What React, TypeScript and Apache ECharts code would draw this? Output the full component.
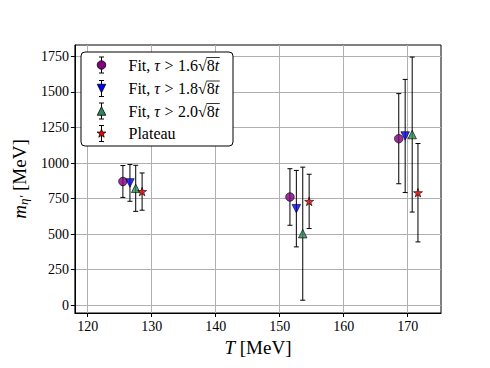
import React, { useEffect, useRef } from "react";
import * as echarts from "echarts";

// ---- data ----
const xTicks = [120, 130, 140, 150, 160, 170];
const yTicks = [0, 250, 500, 750, 1000, 1250, 1500, 1750];

const fit16T = [125.5, 151.6, 168.6];
const fit16M = [870, 761, 1171];
const fit16Err = [112, 199, 317];

const fit18T = [126.6, 152.6, 169.6];
const fit18M = [860, 679, 1190];
const fit18Err = [129, 269, 398];

const fit20T = [127.5, 153.6, 170.7];
const fit20M = [822, 503, 1200];
const fit20Err = [162, 468, 545];

const plateauT = [128.5, 154.6, 171.6];
const plateauM = [799, 730, 791];
const plateauErr = [131, 191, 346];

const legendThresholds = ["1.6", "1.8", "2.0"];

const FONT = "Liberation Serif";

function starPoints(cx: number, cy: number, r: number): number[][] {
  const pts: number[][] = [];
  const inner = r * 0.381966;
  for (let k = 0; k < 10; k++) {
    const a = -Math.PI / 2 + (k * Math.PI) / 5;
    const rr = k % 2 === 0 ? r : inner;
    pts.push([cx + rr * Math.cos(a), cy + rr * Math.sin(a)]);
  }
  return pts;
}

function starSymbol(): string {
  const p = starPoints(0, 0, 10);
  return "path://" + p.map((q, i) => (i === 0 ? "M" : "L") + q[0].toFixed(3) + "," + q[1].toFixed(3)).join("") + "Z";
}

const symbols = {
  circle: "circle",
  down: "path://M-1,-1L1,-1L0,1Z",
  up: "triangle",
  star: starSymbol(),
};

function measure(text: string, font: string): number {
  const c = document.createElement("canvas");
  const ctx = c.getContext("2d")!;
  ctx.font = font;
  return ctx.measureText(text).width;
}

export default function App() {
  const ref = useRef<HTMLDivElement>(null);

  useEffect(() => {
    document.body.style.margin = "0";
    const chart = echarts.init(ref.current!, null, { renderer: "svg" });

    const groups = [
      { name: "Fit 1.6", T: fit16T, M: fit16M, E: fit16Err, color: "#800080", symbol: symbols.circle, size: 8.5 },
      { name: "Fit 1.8", T: fit18T, M: fit18M, E: fit18Err, color: "#0000ff", symbol: symbols.down, size: 8.5 },
      { name: "Fit 2.0", T: fit20T, M: fit20M, E: fit20Err, color: "#2e8b57", symbol: symbols.up, size: 8.5 },
      { name: "Plateau", T: plateauT, M: plateauM, E: plateauErr, color: "#ff0000", symbol: symbols.star, size: 9 },
    ];

    const series: any[] = [];
    groups.forEach((g, gi) => {
      series.push({
        type: "custom",
        name: g.name + " err",
        z: 10 + gi * 2,
        encode: { x: 0, y: [1, 2] },
        data: g.T.map((t, i) => [t, g.M[i] - g.E[i], g.M[i] + g.E[i]]),
        renderItem: (params: any, api: any) => {
          const x = api.value(0);
          const p1 = api.coord([x, api.value(1)]);
          const p2 = api.coord([x, api.value(2)]);
          const cap = 2.5;
          const style = { stroke: "#000", lineWidth: 1 };
          return {
            type: "group",
            children: [
              { type: "line", shape: { x1: p1[0], y1: p1[1], x2: p2[0], y2: p2[1] }, style },
              { type: "line", shape: { x1: p1[0] - cap, y1: p1[1], x2: p1[0] + cap, y2: p1[1] }, style },
              { type: "line", shape: { x1: p2[0] - cap, y1: p2[1], x2: p2[0] + cap, y2: p2[1] }, style },
            ],
          };
        },
      });
      series.push({
        type: "scatter",
        name: g.name,
        z: 11 + gi * 2,
        symbol: g.symbol,
        symbolSize: g.size,
        symbolKeepAspect: true,
        itemStyle: { color: g.color, borderColor: "#000", borderWidth: 0.8 },
        data: g.T.map((t, i) => [t, g.M[i]]),
      });
    });

    // ---- legend (graphic) ----
    const lx = 81, ly = 52, lw = 152, lh = 94;
    const rowY = [65, 88.5, 111, 133.5];
    const mx = 101.5;
    const tx = 128.5;
    const fs = 16;
    const nFont = `${fs}px "Liberation Serif"`;
    const iFont = `italic ${fs}px "Liberation Serif"`;
    const legendEls: any[] = [
      {
        type: "rect",
        shape: { x: lx, y: ly, width: lw, height: lh, r: 4 },
        style: { fill: "#fff", stroke: "#000", lineWidth: 1 },
        z: 100,
      },
    ];
    const markerEl = (k: number, cy: number): any => {
      const st = { fill: groups[k].color, stroke: "#000", lineWidth: 0.8 };
      const r = 4.25;
      if (k === 0) return { type: "circle", shape: { cx: mx, cy, r }, style: st, z: 102 };
      if (k === 1) return { type: "polygon", shape: { points: [[mx - r, cy - r], [mx + r, cy - r], [mx, cy + r]] }, style: st, z: 102 };
      if (k === 2) return { type: "polygon", shape: { points: [[mx - r, cy + r], [mx + r, cy + r], [mx, cy - r]] }, style: st, z: 102 };
      return { type: "polygon", shape: { points: starPoints(mx, cy, 4.6) }, style: st, z: 102 };
    };
    const textStyle = (s: string, it: boolean) => ({
      text: s,
      fontFamily: FONT,
      fontSize: fs,
      fontStyle: it ? "italic" : "normal",
      fontWeight: "normal",
      fill: "#000",
      verticalAlign: "middle",
      align: "left",
    });
    rowY.forEach((cy, k) => {
      const ls = { stroke: "#000", lineWidth: 1 };
      legendEls.push({ type: "line", shape: { x1: mx, y1: cy - 8, x2: mx, y2: cy + 8 }, style: ls, z: 101 });
      legendEls.push({ type: "line", shape: { x1: mx - 2.5, y1: cy - 8, x2: mx + 2.5, y2: cy - 8 }, style: ls, z: 101 });
      legendEls.push({ type: "line", shape: { x1: mx - 2.5, y1: cy + 8, x2: mx + 2.5, y2: cy + 8 }, style: ls, z: 101 });
      legendEls.push(markerEl(k, cy));
      if (k < 3) {
        const segs: [string, boolean][] = [
          ["Fit, ", false],
          ["τ", true],
          [">", false],
          [legendThresholds[k], false],
          ["√", false],
          ["8", false],
          ["t", true],
        ];
        let x = tx;
        let olStart = 0;
        segs.forEach(([s, it], si) => {
          if (si === 5) olStart = x;
          legendEls.push({ type: "text", x, y: cy, style: textStyle(s, it), z: 102 });
          x += measure(s, it ? iFont : nFont) + (si === 1 || si === 2 ? 4.5 : 0);
        });
        legendEls.push({
          type: "line",
          shape: { x1: olStart - 0.5, y1: cy - 7.5, x2: x + 0.5, y2: cy - 7.5 },
          style: { stroke: "#000", lineWidth: 0.8 },
          z: 102,
        });
      } else {
        legendEls.push({ type: "text", x: tx, y: cy, style: textStyle("Plateau", false), z: 102 });
      }
    });

    const fmt = (v: number) => String(Math.round(v));

    chart.setOption({
      animation: false,
      backgroundColor: "#fff",
      grid: { left: 73, right: 49, top: 45, bottom: 55, show: true, borderColor: "#000", borderWidth: 1, backgroundColor: "transparent" },
      xAxis: {
        type: "value",
        min: 118,
        max: 175.2,
        name: "{i|T} [MeV]",
        nameLocation: "middle",
        nameGap: 22,
        nameTextStyle: {
          fontFamily: FONT,
          fontSize: 19,
          color: "#000",
          rich: { i: { fontFamily: FONT, fontSize: 19, fontStyle: "italic", color: "#000" } },
        },
        axisLine: { show: true, onZero: false, lineStyle: { color: "#000", width: 1 } },
        axisTick: { show: true, inside: false, length: 4, customValues: xTicks, lineStyle: { color: "#000" } },
        axisLabel: { customValues: xTicks, formatter: fmt, fontFamily: FONT, fontSize: 14, color: "#000", margin: 6 },
        splitLine: { show: true, lineStyle: { color: "#b0b0b0", width: 1 } },
      },
      yAxis: {
        type: "value",
        min: -55,
        max: 1830,
        name: "{i|m}{s|η′} [MeV]",
        nameLocation: "middle",
        nameRotate: 90,
        nameGap: 41,
        nameTextStyle: {
          fontFamily: FONT,
          fontSize: 19,
          color: "#000",
          lineHeight: 22,
          rich: {
            i: { fontFamily: FONT, fontSize: 19, fontStyle: "italic", color: "#000", lineHeight: 22 },
            s: { fontFamily: FONT, fontSize: 13, fontStyle: "italic", color: "#000", lineHeight: 13, verticalAlign: "bottom" },
          },
        },
        axisLine: { show: true, onZero: false, lineStyle: { color: "#000", width: 1 } },
        axisTick: { show: true, inside: false, length: 4, customValues: yTicks, lineStyle: { color: "#000" } },
        axisLabel: { customValues: yTicks, formatter: fmt, fontFamily: FONT, fontSize: 14, color: "#000", margin: 6 },
        splitLine: { show: true, lineStyle: { color: "#b0b0b0", width: 1 } },
      },
      series,
      graphic: legendEls,
    });

    return () => chart.dispose();
  }, []);

  return <div ref={ref} style={{ width: 490, height: 368 }} />;
}
